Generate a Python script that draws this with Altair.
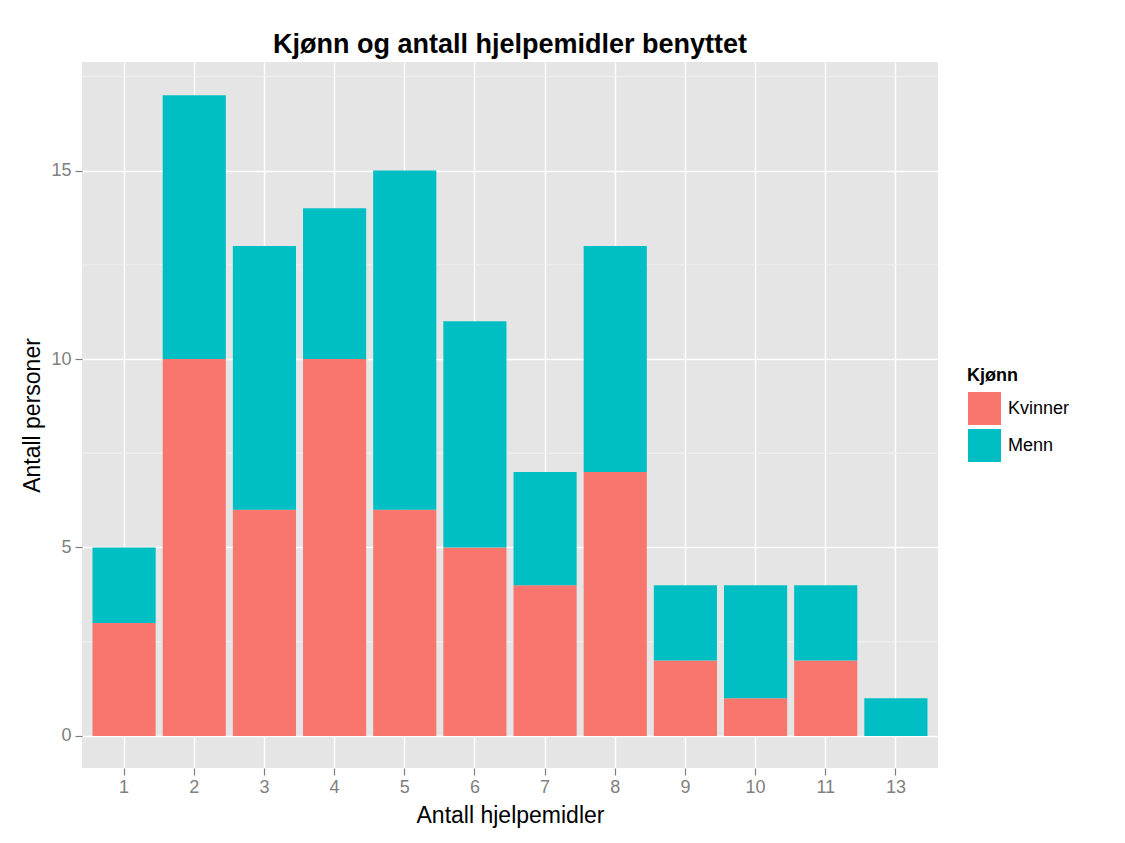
import altair as alt
import pandas as pd

categories = ["1", "2", "3", "4", "5", "6", "7", "8", "9", "10", "11", "13"]
kvinner = [3, 10, 6, 10, 6, 5, 4, 7, 2, 1, 2, 0]
menn = [2, 7, 7, 4, 9, 6, 3, 6, 2, 3, 2, 1]
groups = ["Kvinner", "Menn"]
group_colors = ["#F8766D", "#00BFC4"]
y_ticks = [0, 5, 10, 15]
y_minor = [2.5, 7.5, 12.5, 17.5]

rows = []
for c, k, m in zip(categories, kvinner, menn):
    rows.append({"hjelpemidler": c, "Kjønn": "Kvinner", "antall": k, "ord": 0})
    rows.append({"hjelpemidler": c, "Kjønn": "Menn", "antall": m, "ord": 1})
df = pd.DataFrame(rows)

FONT = "Liberation Sans"
yscale = alt.Scale(domain=[-0.85, 17.88], nice=False, zero=False)
xscale = alt.Scale(domain=categories, paddingInner=0.1, paddingOuter=0.15)
yaxis = alt.Axis(values=y_ticks, title="Antall personer", titlePadding=6, labelPadding=4)

minor = alt.Chart(pd.DataFrame({"v": y_minor})).mark_rule(
    color="#F2F2F2", strokeWidth=0.9
).encode(y=alt.Y("v:Q", scale=yscale, axis=yaxis))

bars = alt.Chart(df).mark_bar().encode(
    x=alt.X(
        "hjelpemidler:N",
        scale=xscale,
        sort=categories,
        axis=alt.Axis(
            title="Antall hjelpemidler",
            labelAngle=0,
            bandPosition=0.5,
            grid=True,
            titlePadding=8,
            labelPadding=3,
        ),
    ),
    y=alt.Y("antall:Q", scale=yscale, stack="zero", axis=yaxis),
    color=alt.Color(
        "Kjønn:N",
        scale=alt.Scale(domain=groups, range=group_colors),
        legend=alt.Legend(
            title="Kjønn",
            orient="none",
            legendX=885,
            legendY=305,
            symbolType="square",
            symbolSize=1156,
            symbolStrokeColor="white",
            symbolStrokeWidth=1,
            symbolOpacity=1,
            rowPadding=-9,
            labelOffset=6,
            titleFontSize=18,
            titleFont=FONT,
            titleFontWeight="bold",
            titleColor="black",
            labelFontSize=18,
            labelFont=FONT,
            labelColor="black",
            titlePadding=6,
        ),
    ),
    order=alt.Order("ord:Q", sort="ascending"),
)

chart = alt.layer(minor, bars).properties(
    width=856,
    height=706,
    autosize=alt.AutoSizeParams(type="none"),
    padding={"left": 74, "top": 54, "right": 170, "bottom": 67},
    title=alt.TitleParams(
        "Kjønn og antall hjelpemidler benyttet",
        fontSize=27,
        fontWeight="bold",
        font=FONT,
        anchor="middle",
        offset=3,
        color="black",
    ),
).configure_view(
    fill="#E5E5E5", stroke=None
).configure_axis(
    domain=False,
    tickColor="#7F7F7F",
    tickSize=7,
    tickWidth=1.2,
    labelColor="#7F7F7F",
    labelFont=FONT,
    labelFontSize=18,
    titleFont=FONT,
    titleFontSize=23,
    titleFontWeight="normal",
    titleColor="black",
    gridColor="white",
    gridWidth=1.4,
)

chart.save("out.html", embed_options={"renderer": "svg", "actions": False})
